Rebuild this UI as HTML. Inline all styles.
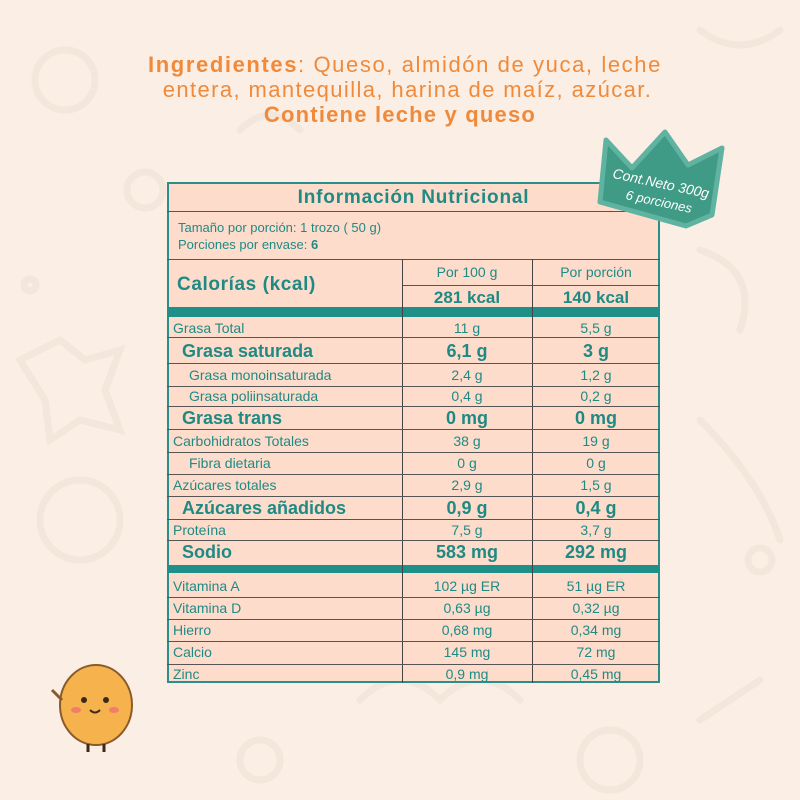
<!DOCTYPE html>
<html><head><meta charset="utf-8"><style>
body{margin:0;width:800px;height:800px;background:#fbeee4;position:relative;overflow:hidden;font-family:"Liberation Sans",sans-serif}
.t{position:absolute;left:167px;top:182px;width:493px;height:501px;background:#fddccc;border:2px solid #2a8f8a;box-sizing:border-box}
.h{position:absolute;background:#555;height:1px}
.v{position:absolute;background:#444;width:1px}
.c{position:absolute;color:#1f8a84;white-space:nowrap;line-height:1}
.bar{position:absolute;left:167px;width:493px;background:#1f8f8a}
.b{font-size:18px;font-weight:bold}
</style></head><body>
<svg width="800" height="800" style="position:absolute;left:0;top:0" fill="none" stroke="#f3e6db" stroke-width="7" stroke-linecap="round">
<circle cx="65" cy="80" r="30"/><circle cx="145" cy="190" r="18"/><path d="M20 360 L60 340 L85 360 L120 350 L105 390 L120 430 L80 420 L50 440 L45 400 Z"/>
<circle cx="80" cy="520" r="40"/><path d="M700 250 q60 20 40 80"/><path d="M700 420 q60 60 80 120"/><circle cx="760" cy="560" r="12"/>
<path d="M360 700 q40 -40 80 0 q40 -40 80 0"/><circle cx="610" cy="760" r="30"/><path d="M700 720 l60 -40"/><circle cx="30" cy="285" r="6"/><circle cx="260" cy="760" r="20"/>
<path d="M700 30 q40 30 80 0"/><path d="M240 130 q30 -30 60 0"/>
</svg>
<div class="c" style="left:0;width:810px;text-align:center;top:54px;font-size:22px;color:#f08a3a;letter-spacing:1.6px"><b>Ingredientes</b>: Queso, almidón de yuca, leche</div>
<div class="c" style="left:0;width:815px;text-align:center;top:79px;font-size:22px;color:#f08a3a;letter-spacing:1.4px">entera, mantequilla, harina de maíz, azúcar.</div>
<div class="c" style="left:0;width:800px;text-align:center;top:104px;font-size:22px;color:#f08a3a;font-weight:bold;letter-spacing:1.2px">Contiene leche y queso</div>
<div class="t"></div>
<div class="h" style="left:167px;width:493px;top:211px"></div>
<div class="h" style="left:167px;width:493px;top:259px"></div>
<div class="h" style="left:402px;width:258px;top:285px"></div>
<div class="bar" style="top:307px;height:10px"></div>
<div class="bar" style="top:565px;height:8px"></div>
<div class="v" style="left:402px;top:259px;height:424px"></div>
<div class="v" style="left:532px;top:259px;height:424px"></div>
<div class="h" style="left:167px;width:493px;top:337px"></div>
<div class="h" style="left:167px;width:493px;top:363px"></div>
<div class="h" style="left:167px;width:493px;top:386px"></div>
<div class="h" style="left:167px;width:493px;top:406px"></div>
<div class="h" style="left:167px;width:493px;top:429px"></div>
<div class="h" style="left:167px;width:493px;top:452px"></div>
<div class="h" style="left:167px;width:493px;top:474px"></div>
<div class="h" style="left:167px;width:493px;top:496px"></div>
<div class="h" style="left:167px;width:493px;top:519px"></div>
<div class="h" style="left:167px;width:493px;top:540px"></div>
<div class="h" style="left:167px;width:493px;top:597px"></div>
<div class="h" style="left:167px;width:493px;top:619px"></div>
<div class="h" style="left:167px;width:493px;top:641px"></div>
<div class="h" style="left:167px;width:493px;top:664px"></div>
<div class="c" style="left:167px;width:493px;text-align:center;top:188px;font-size:19px;font-weight:bold;letter-spacing:0.8px">Información Nutricional</div>
<div class="c" style="left:178px;top:221px;font-size:13px">Tamaño por porción: 1 trozo ( 50 g)</div>
<div class="c" style="left:178px;top:238px;font-size:13px">Porciones por envase: <b>6</b></div>
<div class="c" style="left:177px;top:275px;font-size:19px;font-weight:bold;letter-spacing:0.6px">Calorías (kcal)</div>
<div class="c" style="left:402px;width:130px;text-align:center;top:265px;font-size:14px">Por 100 g</div>
<div class="c" style="left:532px;width:128px;text-align:center;top:265px;font-size:14px">Por porción</div>
<div class="c" style="left:402px;width:130px;text-align:center;top:289px;font-size:17px;font-weight:bold">281 kcal</div>
<div class="c" style="left:532px;width:128px;text-align:center;top:289px;font-size:17px;font-weight:bold">140 kcal</div>
<div class="c" style="left:173px;top:321px;font-size:14px">Grasa Total</div><div class="c" style="left:402px;width:130px;text-align:center;top:321px;font-size:14px">11 g</div><div class="c" style="left:532px;width:128px;text-align:center;top:321px;font-size:14px">5,5 g</div>
<div class="c b" style="left:182px;top:342px">Grasa saturada</div><div class="c b" style="left:402px;width:130px;text-align:center;top:342px">6,1 g</div><div class="c b" style="left:532px;width:128px;text-align:center;top:342px">3 g</div>
<div class="c" style="left:189px;top:368px;font-size:14px">Grasa monoinsaturada</div><div class="c" style="left:402px;width:130px;text-align:center;top:368px;font-size:14px">2,4 g</div><div class="c" style="left:532px;width:128px;text-align:center;top:368px;font-size:14px">1,2 g</div>
<div class="c" style="left:189px;top:389px;font-size:14px">Grasa poliinsaturada</div><div class="c" style="left:402px;width:130px;text-align:center;top:389px;font-size:14px">0,4 g</div><div class="c" style="left:532px;width:128px;text-align:center;top:389px;font-size:14px">0,2 g</div>
<div class="c b" style="left:182px;top:409px">Grasa trans</div><div class="c b" style="left:402px;width:130px;text-align:center;top:409px">0 mg</div><div class="c b" style="left:532px;width:128px;text-align:center;top:409px">0 mg</div>
<div class="c" style="left:173px;top:434px;font-size:14px">Carbohidratos Totales</div><div class="c" style="left:402px;width:130px;text-align:center;top:434px;font-size:14px">38 g</div><div class="c" style="left:532px;width:128px;text-align:center;top:434px;font-size:14px">19 g</div>
<div class="c" style="left:189px;top:456px;font-size:14px">Fibra dietaria</div><div class="c" style="left:402px;width:130px;text-align:center;top:456px;font-size:14px">0 g</div><div class="c" style="left:532px;width:128px;text-align:center;top:456px;font-size:14px">0 g</div>
<div class="c" style="left:173px;top:478px;font-size:14px">Azúcares totales</div><div class="c" style="left:402px;width:130px;text-align:center;top:478px;font-size:14px">2,9 g</div><div class="c" style="left:532px;width:128px;text-align:center;top:478px;font-size:14px">1,5 g</div>
<div class="c b" style="left:182px;top:499px">Azúcares añadidos</div><div class="c b" style="left:402px;width:130px;text-align:center;top:499px">0,9 g</div><div class="c b" style="left:532px;width:128px;text-align:center;top:499px">0,4 g</div>
<div class="c" style="left:173px;top:523px;font-size:14px">Proteína</div><div class="c" style="left:402px;width:130px;text-align:center;top:523px;font-size:14px">7,5 g</div><div class="c" style="left:532px;width:128px;text-align:center;top:523px;font-size:14px">3,7 g</div>
<div class="c b" style="left:182px;top:543px">Sodio</div><div class="c b" style="left:402px;width:130px;text-align:center;top:543px">583 mg</div><div class="c b" style="left:532px;width:128px;text-align:center;top:543px">292 mg</div>
<div class="c" style="left:173px;top:579px;font-size:14px">Vitamina A</div><div class="c" style="left:402px;width:130px;text-align:center;top:579px;font-size:14px">102 µg ER</div><div class="c" style="left:532px;width:128px;text-align:center;top:579px;font-size:14px">51 µg ER</div>
<div class="c" style="left:173px;top:601px;font-size:14px">Vitamina D</div><div class="c" style="left:402px;width:130px;text-align:center;top:601px;font-size:14px">0,63 µg</div><div class="c" style="left:532px;width:128px;text-align:center;top:601px;font-size:14px">0,32 µg</div>
<div class="c" style="left:173px;top:623px;font-size:14px">Hierro</div><div class="c" style="left:402px;width:130px;text-align:center;top:623px;font-size:14px">0,68 mg</div><div class="c" style="left:532px;width:128px;text-align:center;top:623px;font-size:14px">0,34 mg</div>
<div class="c" style="left:173px;top:645px;font-size:14px">Calcio</div><div class="c" style="left:402px;width:130px;text-align:center;top:645px;font-size:14px">145 mg</div><div class="c" style="left:532px;width:128px;text-align:center;top:645px;font-size:14px">72 mg</div>
<div class="c" style="left:173px;top:667px;font-size:14px">Zinc</div><div class="c" style="left:402px;width:130px;text-align:center;top:667px;font-size:14px">0,9 mg</div><div class="c" style="left:532px;width:128px;text-align:center;top:667px;font-size:14px">0,45 mg</div>
<svg width="800" height="800" style="position:absolute;left:0;top:0">
<path d="M606 140 L632 168 L665 132 L688 165 L722 148 L712 215 L686 226 L600 202 Z" fill="#3f9a86" stroke="#5fb3a0" stroke-width="5" stroke-linejoin="round"/>
<text x="660" y="188" transform="rotate(12 660 188)" text-anchor="middle" font-family="Liberation Sans, sans-serif" font-size="14" font-style="italic" fill="#fff">Cont.Neto 300g</text>
<text x="658" y="206" transform="rotate(12 658 206)" text-anchor="middle" font-family="Liberation Sans, sans-serif" font-size="13" font-style="italic" fill="#fff">6 porciones</text>
<ellipse cx="96" cy="705" rx="36" ry="40" fill="#f6b24c" stroke="#8a5a2a" stroke-width="2"/>
<circle cx="84" cy="700" r="3" fill="#3a2a1a"/><circle cx="106" cy="700" r="3" fill="#3a2a1a"/>
<ellipse cx="76" cy="710" rx="5" ry="3" fill="#f27d6a"/><ellipse cx="114" cy="710" rx="5" ry="3" fill="#f27d6a"/>
<path d="M90 710 q5 5 10 0" stroke="#3a2a1a" stroke-width="2" fill="none"/>
<path d="M62 700 L52 690" stroke="#8a5a2a" stroke-width="3"/><path d="M88 744 v8 M104 744 v8" stroke="#3a2a1a" stroke-width="3"/>
</svg>
</body></html>
